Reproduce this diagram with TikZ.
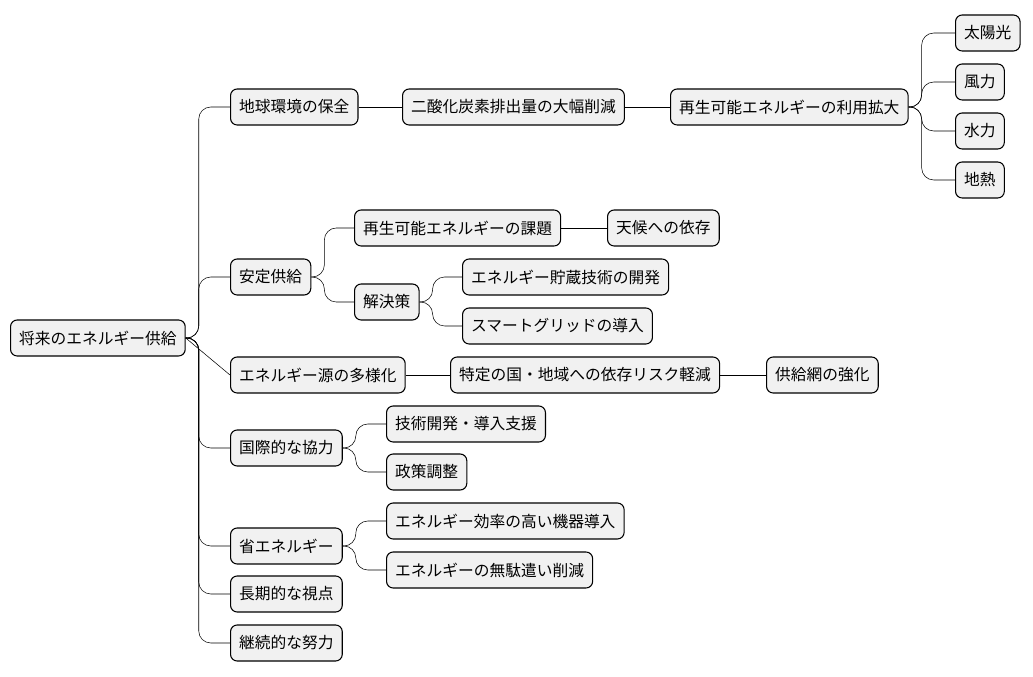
\documentclass[tikz,border=0pt]{standalone}
\usepackage{fontspec}
\setmainfont{Noto Sans CJK JP}
\usetikzlibrary{positioning}
\definecolor{boxgrau}{RGB}{241,241,241}

\begin{document}
\begin{tikzpicture}[x=0.75pt, y=-0.75pt,
                    idea/.style = {
                      draw=black, fill=boxgrau, thick,
                      rounded corners=5pt,
                      minimum height=27pt, inner xsep=6.5pt,
                      anchor=west, font=\fontsize{11.8}{13}\selectfont
                    },
                    link/.style = {
                      draw=black, rounded corners=9pt
                    }]
    \useasboundingbox (0,0) rectangle (1033,677);

    \node(root)[idea] at (10,338) {将来のエネルギー供給};

    \node(umwelt)[idea] at (230,107) {地球環境の保全};
    \node(co2)[idea]    at (402,107) {二酸化炭素排出量の大幅削減};
    \node(erneu)[idea]  at (670,107) {再生可能エネルギーの利用拡大};
    \node(sonne)[idea]  at (955,33)  {太陽光};
    \node(wind)[idea]   at (955,82)  {風力};
    \node(wasser)[idea] at (955,131) {水力};
    \node(erd)[idea]    at (955,180) {地熱};

    \node(stabil)[idea]  at (230,277) {安定供給};
    \node(problem)[idea] at (354,228) {再生可能エネルギーの課題};
    \node(wetter)[idea]  at (607,228) {天候への依存};
    \node(loesung)[idea] at (354,302) {解決策};
    \node(speicher)[idea] at (462,277) {エネルギー貯蔵技術の開発};
    \node(smart)[idea]   at (462,326) {スマートグリッドの導入};

    \node(vielfalt)[idea] at (230,375) {エネルギー源の多様化};
    \node(risiko)[idea]   at (450,375) {特定の国・地域への依存リスク軽減};
    \node(netz)[idea]     at (766,375) {供給網の強化};

    \node(intl)[idea]    at (230,448) {国際的な協力};
    \node(technik)[idea] at (386,424) {技術開発・導入支援};
    \node(politik)[idea] at (386,472) {政策調整};

    \node(sparen)[idea]  at (230,546) {省エネルギー};
    \node(effizient)[idea] at (386,521) {エネルギー効率の高い機器導入};
    \node(verschw)[idea] at (386,570) {エネルギーの無駄遣い削減};

    \node(lang)[idea]   at (230,594) {長期的な視点};
    \node(dauer)[idea]  at (230,643) {継続的な努力};

    % branches that bend
    \foreach \a/\b in {root/umwelt, root/stabil, root/intl,
                       root/sparen, root/lang, root/dauer,
                       erneu/sonne, erneu/wind, erneu/wasser, erneu/erd,
                       stabil/problem, stabil/loesung,
                       loesung/speicher, loesung/smart,
                       intl/technik, intl/politik,
                       sparen/effizient, sparen/verschw}
      \path[link] (\a.east) -- ++(13,0) |- (\b.west);
    % straight branches
    \foreach \a/\b in {root/vielfalt, umwelt/co2, co2/erneu, problem/wetter,
                       vielfalt/risiko, risiko/netz}
      \draw (\a.east) -- (\b.west);
  \end{tikzpicture}
\end{document}
